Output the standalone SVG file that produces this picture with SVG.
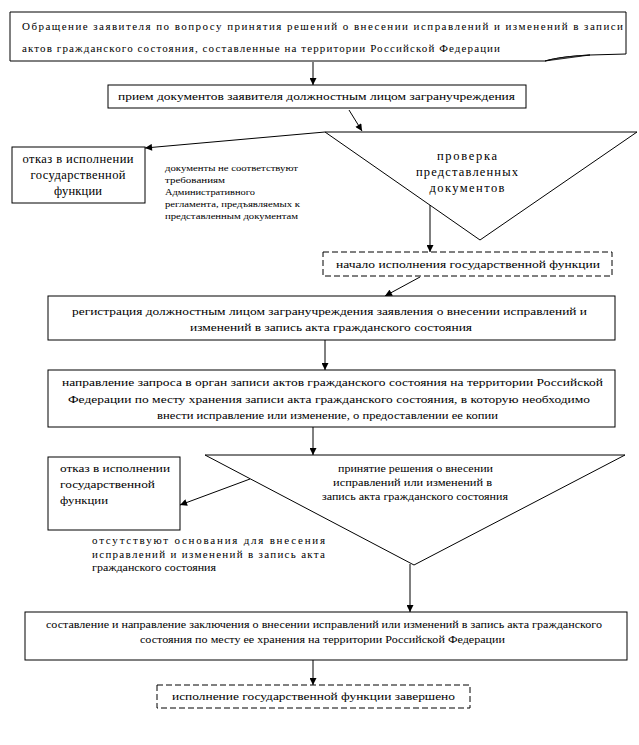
<svg xmlns="http://www.w3.org/2000/svg" width="639" height="745" viewBox="0 0 639 745">
<defs>
<marker id="ah" viewBox="0 0 10 10" refX="10" refY="5" markerWidth="8" markerHeight="7" markerUnits="userSpaceOnUse" orient="auto">
<path d="M0,0 L10,5 L0,10 Z" fill="#000"/>
</marker>
<style>
.b{fill:#fff;stroke:#000;stroke-width:1}
.d{fill:#fff;stroke:#000;stroke-width:1;stroke-dasharray:6,3}
.c{fill:none;stroke:#000;stroke-width:1;marker-end:url(#ah)}
.t text{font-size:11px;fill:#000}
.t .s{font-size:9px}
.t .l{font-size:12.5px}
.t .m{text-anchor:middle}
</style>
</defs>
<rect width="639" height="745" fill="#fff"/>
<g id="connectors">
<line class="c" x1="313" y1="62" x2="313" y2="85"/>
<line class="c" x1="349" y1="110" x2="362" y2="131"/>
<polyline class="c" points="325,132 145,148"/>
<line class="c" x1="430" y1="205" x2="430" y2="252"/>
<line class="c" x1="420" y1="277" x2="385" y2="296"/>
<line class="c" x1="325" y1="340" x2="325" y2="370"/>
<line class="c" x1="313" y1="427" x2="313" y2="455"/>
<line class="c" x1="250" y1="479" x2="180" y2="505"/>
<line class="c" x1="410" y1="564" x2="410" y2="612"/>
<line class="c" x1="313" y1="660" x2="313" y2="685"/>
</g>
<g class="t" font-family="'Liberation Serif', 'Times New Roman', serif">
<g id="n1">
<path class="b" d="M10,12 H626 V54 L590,55 C570,56 555,58 545,61 H10 Z"/>
<path d="M545,61 C560,57 575,56 590,55 C575,57 560,59 545,61 Z" fill="#999" stroke="#000" stroke-width="0.8"/>
<text x="22" y="30" textLength="601" lengthAdjust="spacing">Обращение заявителя по вопросу принятия  решений о внесении исправлений и изменений в записи</text>
<text x="22" y="52" textLength="478" lengthAdjust="spacing">актов гражданского состояния, составленные на территории Российской Федерации</text>
</g>
<g id="n2">
<rect class="b" x="108" y="85" width="418" height="23"/>
<text x="118" y="100" textLength="397" lengthAdjust="spacingAndGlyphs">прием документов заявителя должностным лицом загранучреждения</text>
</g>
<g id="n3">
<polygon class="b" points="325,132 637,132 480,240"/>
<text class="m l" x="467" y="160" textLength="60" lengthAdjust="spacing">проверка</text>
<text class="m l" x="467" y="176" textLength="102" lengthAdjust="spacing">представленных</text>
<text class="m l" x="467" y="192" textLength="75" lengthAdjust="spacing">документов</text>
</g>
<g id="n4">
<rect class="b" x="12" y="147" width="133" height="56"/>
<text class="m l" x="78" y="163" textLength="111" lengthAdjust="spacing">отказ в исполнении</text>
<text class="m l" x="78" y="179" textLength="95" lengthAdjust="spacing">государственной</text>
<text class="m l" x="78" y="195" textLength="48" lengthAdjust="spacing">функции</text>
</g>
<g id="l1">
<text class="s" x="165" y="171" textLength="133" lengthAdjust="spacingAndGlyphs">документы не соответствуют</text>
<text class="s" x="165" y="183" textLength="60" lengthAdjust="spacingAndGlyphs">требованиям</text>
<text class="s" x="165" y="195" textLength="90" lengthAdjust="spacingAndGlyphs">Административного</text>
<text class="s" x="165" y="207" textLength="135" lengthAdjust="spacingAndGlyphs">регламента, предъявляемых к</text>
<text class="s" x="165" y="219" textLength="133" lengthAdjust="spacingAndGlyphs">представленным документам</text>
</g>
<g id="n5">
<rect class="d" x="323" y="252" width="289" height="24"/>
<text x="336" y="268" textLength="264" lengthAdjust="spacingAndGlyphs">начало исполнения государственной функции</text>
</g>
<g id="n6">
<rect class="b" x="48" y="296" width="567" height="44"/>
<text x="72" y="315" textLength="515" lengthAdjust="spacingAndGlyphs">регистрация должностным лицом загранучреждения заявления о внесении исправлений и</text>
<text x="190" y="331" textLength="282" lengthAdjust="spacingAndGlyphs">изменений в запись акта гражданского состояния</text>
</g>
<g id="n7">
<rect class="b" x="48" y="370" width="567" height="57"/>
<text x="62" y="386" textLength="541" lengthAdjust="spacingAndGlyphs">направление запроса в  орган записи актов гражданского состояния на территории Российской</text>
<text x="68" y="403" textLength="522" lengthAdjust="spacingAndGlyphs">Федерации по месту хранения записи акта гражданского состояния, в которую необходимо</text>
<text x="157" y="419" textLength="341" lengthAdjust="spacingAndGlyphs">внести исправление или изменение, о предоставлении ее копии</text>
</g>
<g id="n8">
<polygon class="b" points="205,455 625,455 414,565"/>
<text x="338" y="472" textLength="155" lengthAdjust="spacingAndGlyphs">принятие решения о внесении</text>
<text x="333" y="486" textLength="159" lengthAdjust="spacingAndGlyphs">исправлений или изменений в</text>
<text x="322" y="500" textLength="186" lengthAdjust="spacingAndGlyphs">запись акта гражданского состояния</text>
</g>
<g id="n9">
<rect class="b" x="48" y="457" width="132" height="73"/>
<text x="60" y="472" textLength="110" lengthAdjust="spacingAndGlyphs">отказ в исполнении</text>
<text x="60" y="488" textLength="95" lengthAdjust="spacingAndGlyphs">государственной</text>
<text x="60" y="504" textLength="48" lengthAdjust="spacingAndGlyphs">функции</text>
</g>
<g id="l2">
<text x="92" y="544" textLength="233" lengthAdjust="spacing">отсутствуют   основания   для   внесения</text>
<text x="92" y="558" textLength="233" lengthAdjust="spacing">исправлений  и  изменений  в  запись  акта</text>
<text x="92" y="571" textLength="124" lengthAdjust="spacingAndGlyphs">гражданского состояния</text>
</g>
<g id="n10">
<rect class="b" x="25" y="612" width="602" height="48"/>
<text x="46" y="628" textLength="556" lengthAdjust="spacingAndGlyphs">составление и направление заключения о внесении исправлений или изменений в запись акта гражданского</text>
<text x="140" y="643" textLength="365" lengthAdjust="spacingAndGlyphs">состояния по месту ее хранения на территории Российской Федерации</text>
</g>
<g id="n11">
<rect class="d" x="157" y="685" width="313" height="23"/>
<text x="172" y="700" textLength="283" lengthAdjust="spacingAndGlyphs">исполнение государственной функции завершено</text>
</g>
</g>
</svg>
